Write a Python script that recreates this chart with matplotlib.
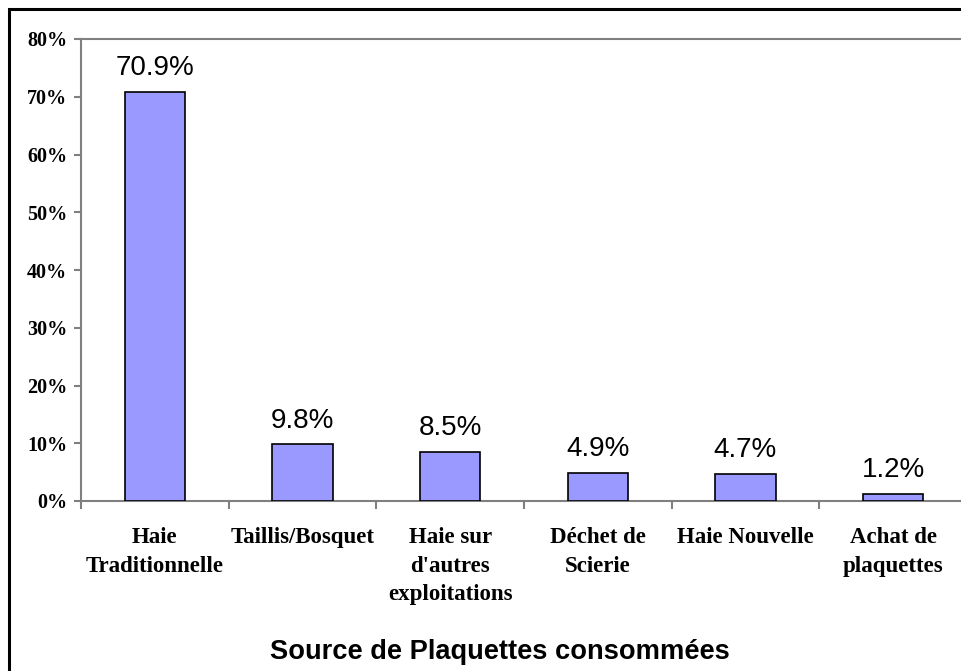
import matplotlib
matplotlib.use('Agg')
import matplotlib.pyplot as plt
from matplotlib.patches import Rectangle
from matplotlib.ticker import FuncFormatter

# Wood chip sources (share of consumption, %)
categories = ['Haie\nTraditionnelle', 'Taillis/Bosquet', "Haie sur\nd'autres\nexploitations",
              'Déchet de\nScierie', 'Haie Nouvelle', 'Achat de\nplaquettes']
shares = [70.9, 9.8, 8.5, 4.9, 4.7, 1.2]
y_ticks = [0, 10, 20, 30, 40, 50, 60, 70, 80]

W, H = 962, 671
fig = plt.figure(figsize=(W / 100, H / 100), dpi=100)
fig.patch.set_facecolor('white')

# chart frame, only the top and left edges fall inside the image
fig.add_artist(Rectangle((9 / W, -0.2), 1.2, 1.2 - 9 / H, transform=fig.transFigure,
                         fill=False, edgecolor='black', linewidth=2.2))

ax = fig.add_axes([81 / W, 170 / H, (967 - 81) / W, 462 / H])
x = list(range(len(categories)))
ax.bar(x, shares, width=0.41, color='#9999FF', edgecolor='black', linewidth=1.2, zorder=3)

for xi, v in zip(x, shares):
    ax.annotate(f'{v:.1f}%', (xi, v), xytext=(0, 12), textcoords='offset points',
                ha='center', va='baseline', fontsize=20, family='Liberation Sans')

ax.set_xlim(-0.5, 5.5)
ax.set_ylim(0, 80)
ax.set_yticks(y_ticks)
ax.yaxis.set_major_formatter(FuncFormatter(lambda v, p: f'{v:.0f}%'))
ax.set_xticks(x)
ax.set_xticklabels(categories, fontsize=16.5, family='Liberation Serif', fontweight='bold',
                   linespacing=1.45)
ax.set_xticks([i - 0.5 for i in range(len(categories) + 1)], minor=True)
ax.tick_params(axis='x', which='major', length=0, pad=19)
ax.tick_params(axis='x', which='minor', length=6, color='#808080', width=1.5)
ax.tick_params(axis='y', length=5, color='#808080', width=1.5, pad=5)
for lab in ax.get_yticklabels():
    lab.set_family('Liberation Serif')
    lab.set_fontweight('bold')
    lab.set_fontsize(14.5)

for side in ['left', 'bottom', 'top']:
    ax.spines[side].set_color('#808080')
    ax.spines[side].set_linewidth(1.5)
ax.spines['right'].set_visible(False)

fig.text(500 / W, 1 - 652 / H, 'Source de Plaquettes consommées', ha='center', va='center',
         fontsize=19.6, fontweight='bold', family='Liberation Sans')

fig.savefig('out.png', dpi=100)
